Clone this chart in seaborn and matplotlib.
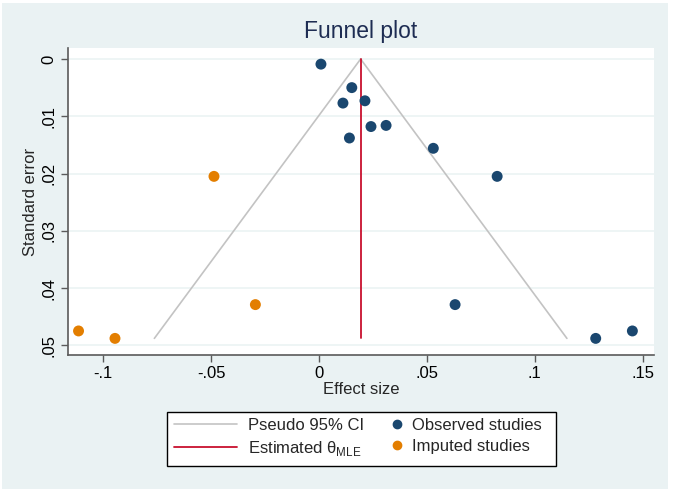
import numpy as np
import pandas as pd
import matplotlib
matplotlib.use("Agg")
import matplotlib.pyplot as plt
from matplotlib.lines import Line2D
from matplotlib.patches import Rectangle
import seaborn as sns

# Values
observed_effect = [0.0009, 0.0152, 0.0111, 0.0213, 0.0241, 0.0311, 0.0141, 0.0530,
                   0.0826, 0.0631, 0.1283, 0.1453]
observed_se = [0.0009, 0.0050, 0.0077, 0.0073, 0.0118, 0.0116, 0.0138, 0.0156,
               0.0205, 0.0429, 0.0488, 0.0475]
imputed_effect = [-0.1115, -0.0946, -0.0295, -0.0487]
imputed_se = [0.0475, 0.0488, 0.0429, 0.0205]

theta_mle = 0.0193
se_range = [0.0, 0.0488]

x_ticks = [-0.1, -0.05, 0, 0.05, 0.1, 0.15]
x_labels = ["-.1", "-.05", "0", ".05", ".1", ".15"]
y_ticks = [0, 0.01, 0.02, 0.03, 0.04, 0.05]
y_labels = ["0", ".01", ".02", ".03", ".04", ".05"]

navy = "#1a476f"
orange = "#e37e00"
red = "#c8102e"
ci_gray = "#c3c3c3"
bg = "#eaf2f3"

sns.set_style("white")
plt.rcParams["font.family"] = ["Liberation Sans", "DejaVu Sans"]
plt.rcParams["mathtext.fontset"] = "custom"
plt.rcParams["mathtext.rm"] = "Liberation Sans"

df = pd.DataFrame({
    "effect": observed_effect + imputed_effect,
    "se": observed_se + imputed_se,
    "group": ["Observed studies"] * len(observed_effect) + ["Imputed studies"] * len(imputed_effect),
})

W, H = 673, 491
fig = plt.figure(figsize=(6.73, 4.91), dpi=100, facecolor="white")
fig.patches.append(Rectangle((2 / W, 2 / H), 666 / W, 486 / H, transform=fig.transFigure,
                             facecolor=bg, edgecolor="none", zorder=-10))
ax = fig.add_axes([0.101, 0.277, 0.871, 0.625])
ax.set_facecolor("white")

# pseudo 95% CI funnel
se_line = np.array(se_range)
ax.plot(theta_mle - 1.96 * se_line, se_line, color=ci_gray, lw=1.2, zorder=2)
ax.plot(theta_mle + 1.96 * se_line, se_line, color=ci_gray, lw=1.2, zorder=2)
ax.plot([theta_mle, theta_mle], se_range, color=red, lw=1.3, zorder=3)

sns.scatterplot(data=df, x="effect", y="se", hue="group",
                palette={"Observed studies": navy, "Imputed studies": orange},
                s=62, linewidth=0, legend=False, ax=ax, zorder=4)

ax.set_xlim(-0.1164, 0.1554)
ax.set_ylim(0.0517, -0.0019)
ax.set_xticks(x_ticks)
ax.set_xticklabels(x_labels, fontsize=12)
ax.set_yticks(y_ticks)
ax.set_yticklabels(y_labels, fontsize=12, rotation=90, va="center")
for y in y_ticks:
    ax.axhline(y, color=bg, lw=1.1, zorder=1)

for side in ["top", "right"]:
    ax.spines[side].set_visible(False)
for side in ["left", "bottom"]:
    ax.spines[side].set_color("#5a5a5a")
    ax.spines[side].set_linewidth(1.2)
ax.tick_params(axis="both", direction="out", length=5, width=1, color="#5a5a5a",
               labelcolor="black", left=True, bottom=True, pad=3)

ax.set_xlabel("Effect size", fontsize=12, labelpad=1)
ax.set_ylabel("Standard error", fontsize=12, labelpad=3)
ax.set_title("Funnel plot", fontsize=16.5, color="#1e2d53", pad=7)

# legend: framed box holding two frameless legends
fig.patches.append(Rectangle((167 / W, 1 - 466 / H), 389 / W, 54 / H, transform=fig.transFigure,
                             facecolor="white", edgecolor="black", lw=1.0, zorder=1))
line_handles = [Line2D([], [], color=ci_gray, lw=1.2), Line2D([], [], color=red, lw=1.3)]
line_labels = ["Pseudo 95% CI", "Estimated θ$_{\\mathrm{MLE}}$"]
dot_handles = [Line2D([], [], marker="o", ls="", color=navy, markersize=6),
               Line2D([], [], marker="o", ls="", color=orange, markersize=6)]
dot_labels = ["Observed studies", "Imputed studies"]
leg_kw = dict(loc="upper left", fontsize=12, frameon=False, borderpad=0,
              borderaxespad=0, labelspacing=0.35)
leg1 = fig.legend(line_handles, line_labels, bbox_to_anchor=(174 / W, 1 - 418 / H),
                  handlelength=3.78, handletextpad=0.66, **leg_kw)
leg1.set_zorder(2)
leg2 = fig.legend(dot_handles, dot_labels, bbox_to_anchor=(390 / W, 1 - 418 / H),
                  handlelength=0.8, handletextpad=0.5, **leg_kw)
leg2.set_zorder(2)

fig.savefig("out.png", dpi=100, facecolor="white")
